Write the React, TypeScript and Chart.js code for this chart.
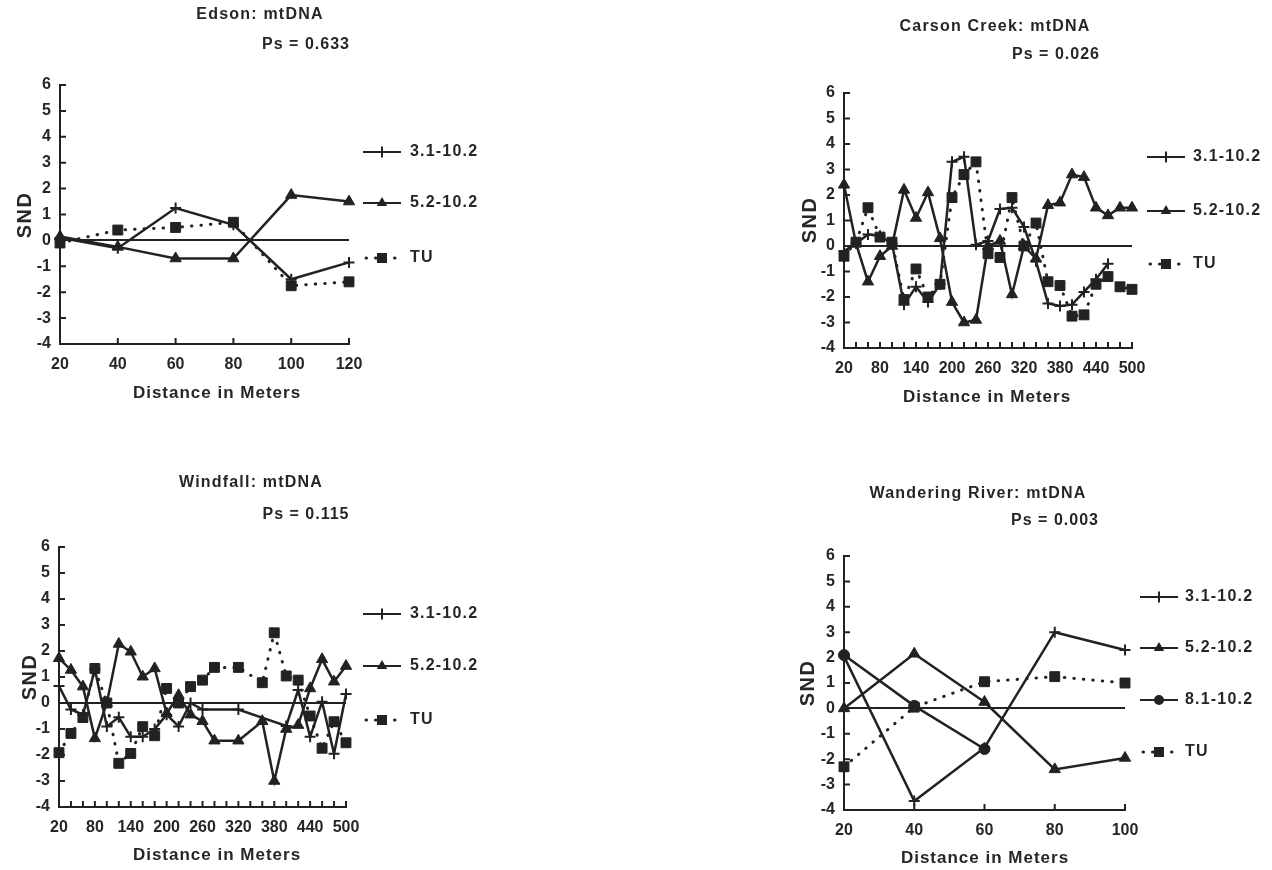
import React, { useEffect, useRef } from 'react';
import { Chart, registerables } from 'chart.js';

Chart.register(...registerables);

// ---------- data ----------
const sndTicks = [-4, -3, -2, -1, 0, 1, 2, 3, 4, 5, 6];

const edsonX = [20, 40, 60, 80, 100, 120];
const edsonLabels = [20, 40, 60, 80, 100, 120];
const edson31 = [0.1, -0.3, 1.25, 0.6, -1.5, -0.85];
const edson52 = [0.15, -0.25, -0.7, -0.7, 1.75, 1.5];
const edsonTU = [-0.1, 0.4, 0.5, 0.7, -1.75, -1.6];

const longX = [20, 40, 60, 80, 100, 120, 140, 160, 180, 200, 220, 240, 260, 280, 300, 320, 340, 360, 380, 400, 420, 440, 460, 480, 500];
const longLabels = [20, 80, 140, 200, 260, 320, 380, 440, 500];

const carson31 = [-0.2, 0.1, 0.45, 0.4, 0.1, -2.3, -1.6, -2.2, -1.5, 3.3, 3.5, 0.05, 0.2, 1.45, 1.5, 0.75, -0.6, -2.25, -2.35, -2.3, -1.8, -1.3, -0.7, null, null];
const carson52 = [2.4, 0.1, -1.4, -0.4, 0.0, 2.2, 1.1, 2.1, 0.3, -2.2, -3.0, -2.9, 0.0, 0.2, -1.9, 0.0, -0.5, 1.6, 1.7, 2.8, 2.7, 1.5, 1.2, 1.5, 1.5];
const carsonTU = [-0.4, 0.15, 1.5, 0.35, 0.15, -2.1, -0.9, -2.0, -1.5, 1.9, 2.8, 3.3, -0.3, -0.45, 1.9, 0.0, 0.9, -1.4, -1.55, -2.75, -2.7, -1.5, -1.2, -1.6, -1.7];

const wind31 = [0.65, -0.25, -0.45, 1.3, -0.9, -0.55, -1.3, -1.3, -1.0, -0.45, -0.9, 0.0, -0.25, null, null, -0.25, null, null, null, -0.88, 0.5, -1.3, 0.05, -1.95, 0.35];
const wind52 = [1.72, 1.27, 0.63, -1.36, 0.0, 2.27, 1.97, 1.01, 1.33, -0.4, 0.3, -0.45, -0.7, -1.45, null, -1.45, null, -0.7, -3.0, -1.0, -0.85, 0.56, 1.68, 0.82, 1.42];
const windTU = [-1.91, -1.17, -0.56, 1.33, 0.0, -2.32, -1.94, -0.91, -1.26, 0.56, 0.0, 0.63, 0.88, 1.37, null, 1.37, null, 0.78, 2.7, 1.04, 0.88, -0.5, -1.74, -0.72, -1.53];

const wandX = [20, 40, 60, 80, 100];
const wandLabels = [20, 40, 60, 80, 100];
const wand31 = [2.05, -3.65, -1.55, 3.0, 2.3];
const wand52 = [0.0, 2.15, 0.25, -2.4, -1.95];
const wand81 = [2.1, 0.1, -1.6, null, null];
const wandTU = [-2.3, 0.05, 1.05, 1.25, 1.0];

// ---------- styling ----------
const INK = '#222222';
const TXT = '#262626';
const FONT = '"Liberation Sans", Arial, Helvetica, sans-serif';

type Mark = 'plus' | 'triangle' | 'circle' | 'square';
type Series = { label: string; data: (number | null)[]; mark: Mark; dotted?: boolean };
type PanelDef = {
  ox: number; oy: number;
  area: { l: number; r: number; t: number; b: number };
  xs: number[]; xMin: number; xMax: number; xLabels: number[];
  title: string; titleX: number; titleY: number;
  ps: string; psX: number; psY: number;
  sndX: number; sndY: number; distX: number; distY: number;
  legLineX: number; legTextX: number; legYs: number[];
  series: Series[];
};

const panels: PanelDef[] = [
  {
    ox: 0, oy: 0, area: { l: 60, r: 349, t: 85, b: 344 },
    xs: edsonX, xMin: 20, xMax: 120, xLabels: edsonLabels,
    title: 'Edson: mtDNA', titleX: 260, titleY: 15, ps: 'Ps = 0.633', psX: 306, psY: 45,
    sndX: 25, sndY: 215, distX: 217, distY: 393,
    legLineX: 363, legTextX: 410, legYs: [152, 203, 258],
    series: [
      { label: '3.1-10.2', data: edson31, mark: 'plus' },
      { label: '5.2-10.2', data: edson52, mark: 'triangle' },
      { label: 'TU', data: edsonTU, mark: 'square', dotted: true },
    ],
  },
  {
    ox: 636, oy: 0, area: { l: 844, r: 1132, t: 93, b: 348 },
    xs: longX, xMin: 20, xMax: 500, xLabels: longLabels,
    title: 'Carson Creek: mtDNA', titleX: 995, titleY: 27, ps: 'Ps = 0.026', psX: 1056, psY: 55,
    sndX: 810, sndY: 220, distX: 987, distY: 397,
    legLineX: 1147, legTextX: 1193, legYs: [157, 211, 264],
    series: [
      { label: '3.1-10.2', data: carson31, mark: 'plus' },
      { label: '5.2-10.2', data: carson52, mark: 'triangle' },
      { label: 'TU', data: carsonTU, mark: 'square', dotted: true },
    ],
  },
  {
    ox: 0, oy: 435, area: { l: 59, r: 346, t: 547, b: 807 },
    xs: longX, xMin: 20, xMax: 500, xLabels: longLabels,
    title: 'Windfall: mtDNA', titleX: 251, titleY: 483, ps: 'Ps = 0.115', psX: 306, psY: 515,
    sndX: 30, sndY: 677, distX: 217, distY: 855,
    legLineX: 363, legTextX: 410, legYs: [614, 666, 720],
    series: [
      { label: '3.1-10.2', data: wind31, mark: 'plus' },
      { label: '5.2-10.2', data: wind52, mark: 'triangle' },
      { label: 'TU', data: windTU, mark: 'square', dotted: true },
    ],
  },
  {
    ox: 636, oy: 435, area: { l: 844, r: 1125, t: 556, b: 810 },
    xs: wandX, xMin: 20, xMax: 100, xLabels: wandLabels,
    title: 'Wandering River: mtDNA', titleX: 978, titleY: 494, ps: 'Ps = 0.003', psX: 1055, psY: 521,
    sndX: 808, sndY: 683, distX: 985, distY: 858,
    legLineX: 1140, legTextX: 1185, legYs: [597, 648, 700, 752],
    series: [
      { label: '3.1-10.2', data: wand31, mark: 'plus' },
      { label: '5.2-10.2', data: wand52, mark: 'triangle' },
      { label: '8.1-10.2', data: wand81, mark: 'circle' },
      { label: 'TU', data: wandTU, mark: 'square', dotted: true },
    ],
  },
];

function drawMarker(ctx: CanvasRenderingContext2D, mark: Mark, x: number, y: number) {
  ctx.save();
  ctx.fillStyle = INK;
  ctx.strokeStyle = INK;
  ctx.setLineDash([]);
  if (mark === 'plus') {
    const r = 5.5;
    ctx.lineWidth = 2;
    ctx.beginPath();
    ctx.moveTo(x - r, y); ctx.lineTo(x + r, y);
    ctx.moveTo(x, y - r); ctx.lineTo(x, y + r);
    ctx.stroke();
  } else if (mark === 'triangle') {
    const r = 6;
    ctx.beginPath();
    ctx.moveTo(x, y - r);
    ctx.lineTo(x + r * 0.87, y + r * 0.5);
    ctx.lineTo(x - r * 0.87, y + r * 0.5);
    ctx.closePath();
    ctx.fill();
  } else if (mark === 'circle') {
    ctx.beginPath();
    ctx.arc(x, y, 5, 0, Math.PI * 2);
    ctx.fill();
  } else {
    ctx.fillRect(x - 5, y - 5, 10, 10);
  }
  ctx.restore();
}

function text(ctx: CanvasRenderingContext2D, s: string, x: number, y: number, size: number, align: CanvasTextAlign, spacing: number) {
  ctx.save();
  ctx.font = `bold ${size}px ${FONT}`;
  ctx.fillStyle = TXT;
  ctx.textAlign = align;
  ctx.textBaseline = 'middle';
  (ctx as any).letterSpacing = `${spacing}px`;
  ctx.fillText(s, x, y);
  ctx.restore();
}

const W = 636;
const H = 435;

function Panel({ def }: { def: PanelDef }) {
  const ref = useRef<HTMLCanvasElement>(null);
  useEffect(() => {
    const canvas = ref.current;
    if (!canvas) return;
    const L = def.area.l - def.ox;
    const R = def.area.r - def.ox;
    const T = def.area.t - def.oy;
    const B = def.area.b - def.oy;
    const X_H = 30;

    const overlay = {
      id: 'overlay' + def.ox + '_' + def.oy,
      afterDraw(chart: any) {
        const ctx: CanvasRenderingContext2D = chart.ctx;
        const a = chart.chartArea;
        const xs = chart.scales.x;
        const ys = chart.scales.y;
        ctx.save();
        ctx.strokeStyle = INK;
        ctx.lineWidth = 2;
        ctx.beginPath();
        ys.ticks.forEach((t: any) => {
          const py = ys.getPixelForValue(t.value);
          ctx.moveTo(a.left, py); ctx.lineTo(a.left + 6, py);
        });
        xs.ticks.forEach((t: any) => {
          const px = xs.getPixelForValue(t.value);
          ctx.moveTo(px, a.bottom); ctx.lineTo(px, a.bottom - 6);
        });
        ctx.stroke();
        ctx.restore();

        const ox = def.ox, oy = def.oy;
        text(ctx, def.title, def.titleX - ox, def.titleY - oy, 16, 'center', 1.2);
        text(ctx, def.ps, def.psX - ox, def.psY - oy, 16, 'center', 1);
        text(ctx, 'Distance in Meters', def.distX - ox, def.distY - oy, 17, 'center', 1);

        ctx.save();
        ctx.translate(def.sndX - ox, def.sndY - oy);
        ctx.rotate(-Math.PI / 2);
        text(ctx, 'SND', 0, 0, 20, 'center', 1.5);
        ctx.restore();

        def.series.forEach((s, i) => {
          const y = def.legYs[i] - oy;
          const x0 = def.legLineX - ox;
          ctx.save();
          ctx.strokeStyle = INK;
          if (s.dotted) {
            ctx.lineWidth = 3;
            ctx.lineCap = 'round';
            ctx.setLineDash([0.5, 9]);
            ctx.beginPath();
            ctx.moveTo(x0 + 3, y); ctx.lineTo(x0 + 36, y);
            ctx.stroke();
          } else {
            ctx.lineWidth = 2;
            ctx.beginPath();
            ctx.moveTo(x0, y); ctx.lineTo(x0 + 38, y);
            ctx.stroke();
          }
          ctx.restore();
          drawMarker(ctx, s.mark, x0 + 19, y);
          text(ctx, s.label, def.legTextX - ox, y, 16, 'left', 1.2);
        });
      },
    };

    const datasets = def.series.map((s) => ({
      label: s.label,
      data: s.data.map((v, i) => ({ x: def.xs[i], y: v })),
      borderColor: INK,
      backgroundColor: INK,
      borderWidth: s.dotted ? 3 : 2.5,
      borderDash: s.dotted ? [0.5, 9] : [],
      borderCapStyle: s.dotted ? 'round' : 'butt',
      pointStyle: s.mark === 'plus' ? 'cross' : s.mark === 'triangle' ? 'triangle' : s.mark === 'circle' ? 'circle' : 'rect',
      pointRadius: s.mark === 'square' ? 7 : s.mark === 'triangle' ? 6.5 : 5.5,
      pointBorderWidth: s.mark === 'plus' ? 2 : 1,
      pointBackgroundColor: INK,
      pointBorderColor: INK,
      spanGaps: true,
      tension: 0,
      clip: false,
    }));

    const chart = new Chart(canvas, {
      type: 'line',
      data: { datasets } as any,
      options: {
        animation: false,
        responsive: false,
        devicePixelRatio: 1,
        layout: { padding: { left: 0, right: W - R, top: T, bottom: H - B - X_H } },
        plugins: { legend: { display: false }, tooltip: { enabled: false }, title: { display: false } },
        scales: {
          x: {
            type: 'linear',
            min: def.xMin,
            max: def.xMax,
            afterFit: (s: any) => { s.height = X_H; },
            ticks: {
              stepSize: 20,
              autoSkip: false,
              maxRotation: 0,
              padding: 3,
              color: TXT,
              font: { family: FONT, size: 16, weight: 'bold' },
              callback: (v: any) => (def.xLabels.includes(Number(v)) ? String(v) : ''),
            },
            grid: { display: false },
            border: { display: true, color: INK, width: 2 },
          },
          y: {
            type: 'linear',
            min: -4,
            max: 6,
            afterFit: (s: any) => { s.width = L; },
            ticks: {
              stepSize: 1,
              padding: 9,
              color: TXT,
              font: { family: FONT, size: 16, weight: 'bold' },
              callback: (v: any) => (sndTicks.includes(Number(v)) ? String(v) : ''),
            },
            grid: {
              drawTicks: false,
              lineWidth: 2,
              color: (c: any) => (c.tick && c.tick.value === 0 ? INK : 'rgba(0,0,0,0)'),
            },
            border: { display: true, color: INK, width: 2 },
          },
        },
      } as any,
      plugins: [overlay],
    });
    return () => chart.destroy();
  }, [def]);

  return (
    <canvas
      ref={ref}
      width={W}
      height={H}
      style={{ position: 'absolute', left: def.ox, top: def.oy, width: W, height: H }}
    />
  );
}

export default function App() {
  return (
    <div style={{ position: 'fixed', left: 0, top: 0, width: 1272, height: 870, background: '#ffffff', overflow: 'hidden' }}>
      {panels.map((p, i) => (
        <Panel key={i} def={p} />
      ))}
    </div>
  );
}
